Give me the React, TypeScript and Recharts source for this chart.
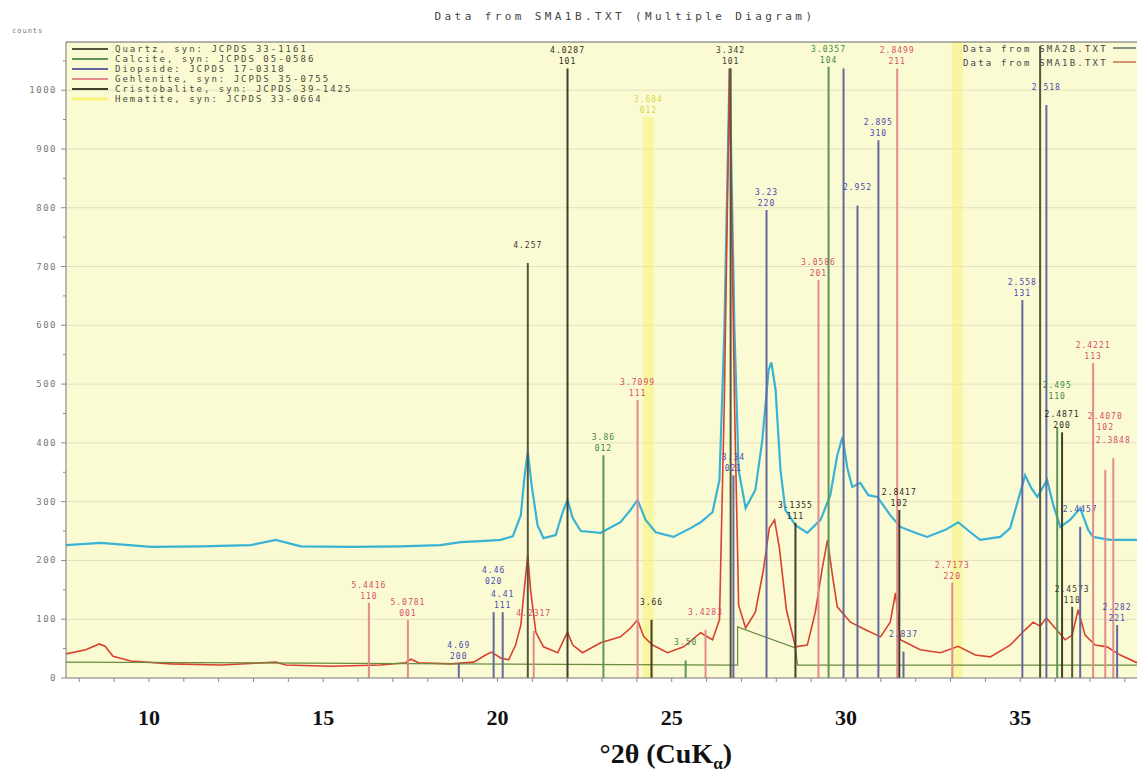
import React from "react";
import {
  ComposedChart,
  Line,
  XAxis,
  YAxis,
  CartesianGrid,
  ReferenceLine,
  Legend,
} from "recharts";

// SMA2B scan (upper trace)
const sma2bAngle = [
  7.62, 8.62, 10.06, 11.49, 12.92, 13.64, 14.36, 15.79, 17.22, 18.37, 18.94, 19.52, 20.09, 20.44,
  20.67, 20.78, 20.87, 20.98, 21.15, 21.32, 21.67, 21.87, 22.01, 22.16, 22.39, 22.96, 23.53, 23.82,
  24.02, 24.25, 24.54, 25.05, 25.54, 25.83, 26.17, 26.37, 26.51, 26.66, 26.8, 26.92, 27.12, 27.4,
  27.6, 27.78, 27.86, 27.98, 28.12, 28.26, 28.55, 28.89, 29.27, 29.55, 29.75, 29.9, 30.04, 30.18,
  30.41, 30.64, 30.9, 31.27, 31.56, 31.99, 32.33, 32.85, 33.22, 33.57, 33.85, 34.43, 34.71, 34.94,
  35.14, 35.32, 35.49, 35.77, 35.95, 36.15, 36.43, 36.72, 36.95, 37.09, 37.58, 38.35,
];
const sma2bCounts = [
  226, 230, 223, 224, 226, 235, 224, 223, 224, 226, 231, 233, 235, 241,
  277, 345, 384, 328, 260, 238, 243, 282, 303, 272, 250, 247, 265, 286,
  303, 269, 248, 240, 255, 265, 282, 337, 592, 1037, 592, 354, 289, 320,
  405, 524, 537, 490, 354, 286, 260, 247, 269, 311, 379, 410, 357, 325,
  332, 311, 308, 277, 257, 247, 240, 252, 265, 248, 235, 240, 255, 303,
  345, 323, 308, 337, 294, 257, 269, 289, 252, 240, 235, 235,
];

// SMA1B scan (lower trace)
const sma1bAngle = [
  7.62, 8.19, 8.57, 8.74, 8.97, 9.48, 10.63, 12.06, 13.64, 13.93, 15.22, 16.65, 17.37, 17.51,
  17.74, 18.66, 19.32, 19.66, 19.83, 20.09, 20.32, 20.52, 20.67, 20.78, 20.87, 20.95, 21.1, 21.32,
  21.73, 21.9, 22.01, 22.16, 22.44, 22.96, 23.53, 23.82, 24.02, 24.19, 24.45, 24.88, 25.34, 25.83,
  26.17, 26.37, 26.51, 26.66, 26.8, 26.92, 27.12, 27.4, 27.63, 27.8, 27.95, 28.09, 28.29, 28.55,
  28.89, 29.12, 29.32, 29.47, 29.61, 29.75, 30.13, 30.56, 30.99, 31.27, 31.42, 31.56, 32.13, 32.71,
  33.22, 33.71, 34.14, 34.71, 35.14, 35.37, 35.57, 35.75, 36.0, 36.29, 36.49, 36.66, 36.86, 37.15,
  37.49, 37.87, 38.35,
];
const sma1bCounts = [
  41, 48, 58, 54, 37, 29, 24, 22, 27, 22, 20, 22, 26, 32,
  26, 24, 27, 39, 44, 34, 31, 56, 90, 158, 209, 150, 78, 53,
  43, 65, 78, 56, 43, 60, 70, 85, 99, 71, 56, 43, 53, 77,
  65, 99, 473, 1037, 473, 124, 85, 112, 184, 255, 269, 221, 116, 53,
  56, 112, 187, 235, 175, 121, 95, 82, 70, 95, 145, 65, 48, 43,
  54, 39, 36, 56, 82, 95, 88, 102, 85, 65, 73, 116, 73, 56,
  53, 39, 26,
];

// background trace
const backAngle = [7.62, 26.89, 26.89, 28.55, 28.61, 38.35];
const backCounts = [27, 22, 87, 51, 22, 22];

// reference cards
const phaseNames = [
  "Quartz, syn: JCPDS 33-1161",
  "Calcite, syn: JCPDS 05-0586",
  "Diopside: JCPDS 17-0318",
  "Gehlenite, syn: JCPDS 35-0755",
  "Cristobalite, syn: JCPDS 39-1425",
  "Hematite, syn: JCPDS 33-0664",
];
const phaseStroke = ["#55553f", "#5f9658", "#6468a0", "#e38a8e", "#3f3f2c", "#f7f27a"];
const phaseText = ["#3a3a30", "#3c8a3c", "#4a4ab0", "#d4506a", "#2a2a22", "#dcd640"];

// stick lines: angle, height, phase index, d-spacing, hkl
const stickAngle = [
  16.31, 17.43, 18.89, 19.89, 20.15, 20.87, 21.04, 22.01, 23.04, 24.02, 24.33, 24.42, 25.4,
  25.97, 26.69, 26.77, 27.72, 28.55, 29.21, 29.5, 29.93, 30.33, 30.93, 31.47, 31.53, 31.65,
  33.05, 33.19, 35.06, 35.57, 35.75, 36.06, 36.2, 36.49, 36.72, 37.09, 37.44, 37.67, 37.78,
];
const stickHeight = [
  128, 99, 25, 112, 112, 706, 80, 1037, 379, 473, 955, 99, 30,
  82, 1037, 345, 796, 264, 677, 1040, 1037, 804, 915, 1037, 286, 45,
  162, 1082, 643, 1075, 975, 427, 418, 121, 257, 536, 354, 374, 90,
];
const stickPhase = [
  3, 3, 2, 2, 2, 0, 3, 4, 1, 3, 5, 4, 1,
  3, 0, 2, 2, 4, 3, 1, 2, 2, 2, 3, 4, 2,
  3, 5, 2, 0, 2, 1, 4, 0, 2, 3, 3, 3, 2,
];
const stickD = [
  "5.4416", "5.0781", "4.69", "4.46", "4.41", "4.257", "4.2317", "4.0287", "3.86", "3.7099", "3.684", "3.66", "3.50",
  "3.4283", "3.342", "3.34", "3.23", "3.1355", "3.0586", "3.0357", "", "2.952", "2.895", "2.8499", "2.8417", "2.837",
  "2.7173", "", "2.558", "", "2.518", "2.495", "2.4871", "2.4573", "2.4457", "2.4221", "2.4070", "2.3848", "2.282",
];
const stickHkl = [
  "110", "001", "200", "020", "111", "", "", "101", "012", "111", "012", "", "",
  "", "101", "021", "220", "111", "201", "104", "", "", "310", "211", "102", "",
  "220", "", "131", "", "", "110", "200", "110", "", "113", "102", "", "221",
];

const files = ["Data from SMA2B.TXT", "Data from SMA1B.TXT"];
const fileColors = ["#5e7070", "#c77040"];

const angleTicks = [8, 9, 10, 11, 12, 13, 14, 15, 16, 17, 18, 19, 20, 21, 22, 23, 24, 25, 26, 27, 28, 29, 30, 31, 32, 33, 34, 35, 36, 37, 38];
const countTicks = [0, 50, 100, 150, 200, 250, 300, 350, 400, 450, 500, 550, 600, 650, 700, 750, 800, 850, 900, 950, 1000, 1050];
const gridCounts = [100, 200, 300, 400, 500, 600, 700, 800, 900, 1000];
const topTicks = [15, 20, 25, 30];

const COUNT_MAX = 1082;
const PLOT_H = 636; // 773 - top 42 - bottom 95

const sma2b = sma2bAngle.map((a, i) => ({ a, c: sma2bCounts[i] }));
const sma1b = sma1bAngle.map((a, i) => ({ a, c: sma1bCounts[i] }));
const back = backAngle.map((a, i) => ({ a, c: backCounts[i] }));
const sticks = stickAngle.map((a, i) => ({
  a,
  h: stickHeight[i],
  phase: stickPhase[i],
  d: stickD[i],
  hkl: stickHkl[i],
}));

// raise a label above the label of the next stick when both sit close together
const liftOf = sticks.map((s, i) => {
  if (!s.d) return 0;
  const next = sticks.find((t, j) => j > i && t.d && t.a - s.a < 0.45 && Math.abs(t.h - s.h) < 45);
  if (!next) return 0;
  return 24 + Math.max(0, ((next.h - s.h) * PLOT_H) / COUNT_MAX);
});

const MONO = "DejaVu Sans Mono, monospace";

function AngleTick({ x, y, payload }: any) {
  const v = payload.value;
  return (
    <g>
      <line x1={x} y1={y} x2={x} y2={y + 4} stroke="#8a8a8a" />
      {v % 5 === 0 && (
        <text
          x={x}
          y={y + 47}
          textAnchor="middle"
          fontFamily="Liberation Serif, serif"
          fontWeight="bold"
          fontSize={22}
          fill="#111"
        >
          {v}
        </text>
      )}
    </g>
  );
}

function CountTick({ x, y, payload }: any) {
  const v = payload.value;
  const major = v % 100 === 0;
  return (
    <g>
      <line x1={x - (major ? 5 : 3)} y1={y} x2={x} y2={y} stroke="#8a8a8a" />
      {major && (
        <text x={x - 9} y={y + 3} textAnchor="end" fontFamily={MONO} fontSize={9} fill="#777" letterSpacing={1.5}>
          {v}
        </text>
      )}
    </g>
  );
}

function StickLabel({ viewBox, d, hkl, color, lift }: any) {
  if (!viewBox || !d) return null;
  const cx = viewBox.x + viewBox.width / 2;
  const top = viewBox.y - lift;
  return (
    <g fontFamily={MONO} fontSize={8} fill={color} textAnchor="middle" letterSpacing={1}>
      <text x={cx} y={top - 15}>{d}</text>
      {hkl && <text x={cx} y={top - 4}>{hkl}</text>}
    </g>
  );
}

function AxisTitle({ viewBox }: any) {
  const cx = viewBox.x + viewBox.width * 0.56;
  return (
    <text
      x={cx}
      y={viewBox.y + 85}
      textAnchor="middle"
      fontFamily="Liberation Serif, serif"
      fontWeight="bold"
      fontSize={28}
      fill="#111"
    >
      °2θ (CuK
      <tspan fontSize={17} dy={6}>α</tspan>
      <tspan dy={-6}>)</tspan>
    </text>
  );
}

function Overlay() {
  return (
    <svg width={1141} height={773} style={{ position: "absolute", left: 0, top: 0, pointerEvents: "none" }}>
      <text x={625} y={20} textAnchor="middle" fontFamily={MONO} fontSize={11} letterSpacing={3.4} fill="#444">
        Data from SMA1B.TXT (Multiple Diagram)
      </text>
      <text x={12} y={33} fontFamily={MONO} fontSize={7} letterSpacing={1} fill="#777">
        counts
      </text>
      {phaseNames.map((name, i) => (
        <g key={name}>
          <line x1={72} x2={108} y1={49 + i * 10} y2={49 + i * 10} stroke={phaseStroke[i]} strokeWidth={i === 5 ? 3 : 2} />
          <text x={115} y={52 + i * 10} fontFamily={MONO} fontSize={9} letterSpacing={2} fill="#4a4a40">
            {name}
          </text>
        </g>
      ))}
      {files.map((name, i) => (
        <g key={name}>
          <text x={963} y={52 + i * 14} fontFamily={MONO} fontSize={9} letterSpacing={2.2} fill="#444">
            {name}
          </text>
          <line x1={1113} x2={1136} y1={48 + i * 14} y2={48 + i * 14} stroke={fileColors[i]} strokeWidth={1.5} />
        </g>
      ))}
    </svg>
  );
}

export default function App() {
  const renderStick = (i: number) => {
    const s = sticks[i];
    return (
      <ReferenceLine
        key={`s${i}`}
        segment={[
          { x: s.a, y: 0 },
          { x: s.a, y: s.h },
        ]}
        stroke={phaseStroke[s.phase]}
        strokeWidth={s.phase === 5 ? 11 : 2}
        strokeOpacity={s.phase === 5 ? 0.55 : 1}
        label={(p: any) => (
          <StickLabel {...p} d={s.d} hkl={s.hkl} color={phaseText[s.phase]} lift={liftOf[i]} />
        )}
      />
    );
  };
  const bandIdx = sticks.map((s, i) => i).filter((i) => sticks[i].phase === 5);
  const lineIdx = sticks.map((s, i) => i).filter((i) => sticks[i].phase !== 5);
  return (
    <div style={{ position: "absolute", left: 0, top: 0, width: 1141, height: 773, background: "#fff" }}>
      <ComposedChart width={1141} height={773} margin={{ top: 28, right: 4, bottom: 55, left: 6 }}>
        <CartesianGrid
          xAxisId="top"
          fill="#fbfbd3"
          stroke="#e2e0be"
          horizontalValues={gridCounts}
          verticalValues={topTicks}
        />
        <XAxis
          dataKey="a"
          type="number"
          domain={[7.62, 38.35]}
          allowDataOverflow
          ticks={angleTicks}
          interval={0}
          tickSize={0}
          tickMargin={0}
          tick={<AngleTick />}
          axisLine={{ stroke: "#777" }}
          height={40}
          label={<AxisTitle />}
        />
        <XAxis
          xAxisId="top"
          orientation="top"
          type="number"
          domain={[2.69, 32.85]}
          ticks={topTicks}
          interval={0}
          tickSize={3}
          tick={{ fontSize: 8, fill: "#666", fontFamily: MONO }}
          axisLine={{ stroke: "#666" }}
          tickLine={{ stroke: "#888" }}
          height={14}
        />
        <YAxis
          type="number"
          domain={[0, COUNT_MAX]}
          allowDataOverflow
          ticks={countTicks}
          interval={0}
          tickSize={0}
          tickMargin={0}
          tick={<CountTick />}
          axisLine={{ stroke: "#777" }}
          width={60}
        />
        <YAxis yAxisId="r" orientation="right" domain={[0, COUNT_MAX]} tick={false} axisLine={{ stroke: "#555" }} width={0} />
        {bandIdx.map(renderStick)}
        <Line
          data={sma2b}
          dataKey="c"
          type="linear"
          stroke="#38b3d6"
          strokeWidth={2.2}
          dot={false}
          isAnimationActive={false}
        />
        <Line
          data={sma1b}
          dataKey="c"
          type="linear"
          stroke="#d8412f"
          strokeWidth={1.6}
          dot={false}
          isAnimationActive={false}
        />
        <Line
          data={back}
          dataKey="c"
          type="linear"
          stroke="#6a8a40"
          strokeWidth={1.2}
          dot={false}
          isAnimationActive={false}
        />
        {lineIdx.map(renderStick)}
        <Legend
          content={() => <Overlay />}
          wrapperStyle={{ position: "absolute", left: 0, top: 0, width: 0, height: 0 }}
        />
      </ComposedChart>
    </div>
  );
}
